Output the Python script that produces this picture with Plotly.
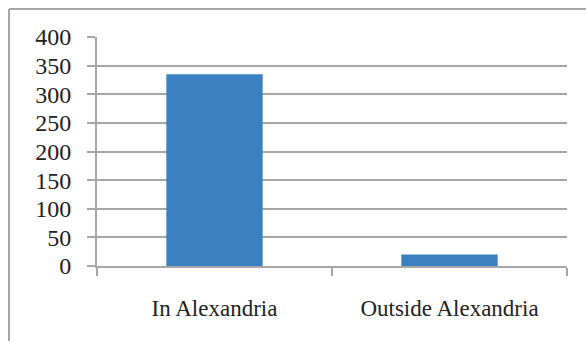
import plotly.graph_objects as go

categories = ["In Alexandria", "Outside Alexandria"]
values = [335, 20]
y_ticks = [0, 50, 100, 150, 200, 250, 300, 350, 400]

W, H = 586, 341
L, R, T, B = 97, 19, 37, 75

fig = go.Figure(go.Bar(x=categories, y=values, marker=dict(color="#3b80c0", line=dict(width=0)), width=0.41))

grid = "#a6a6a6"
serif = "Liberation Serif, Times New Roman, serif"
fig.update_layout(
    width=W, height=H,
    margin=dict(l=L, r=R, t=T, b=B),
    paper_bgcolor="white", plot_bgcolor="white",
    font=dict(family=serif, size=24, color="#222222"),
    showlegend=False,
    xaxis=dict(
        showgrid=False, showline=True, linecolor=grid, linewidth=2,
        ticks="outside", tickson="boundaries", ticklen=8, tickcolor=grid, tickwidth=2,
        ticklabelstandoff=20, tickfont=dict(family=serif, size=23),
    ),
    yaxis=dict(
        range=[0, 400], tickvals=y_ticks, showgrid=True, gridcolor=grid, gridwidth=2,
        showline=True, linecolor=grid, linewidth=2, zeroline=False,
        ticks="outside", ticklen=8, tickcolor=grid, tickwidth=2,
        ticklabelstandoff=11, tickfont=dict(family=serif, size=24),
    ),
    shapes=[
        dict(type="line", xref="paper", yref="paper",
             x0=-(L - 9) / (W - L - R), x1=(W - L) / (W - L - R),
             y0=1 + (T - 9) / (H - T - B), y1=1 + (T - 9) / (H - T - B),
             line=dict(color=grid, width=2)),
        dict(type="line", xref="paper", yref="paper",
             x0=-(L - 9) / (W - L - R), x1=-(L - 9) / (W - L - R),
             y0=1 + (T - 9) / (H - T - B), y1=-B / (H - T - B),
             line=dict(color=grid, width=2)),
    ],
)

fig.write_html("out.html")
